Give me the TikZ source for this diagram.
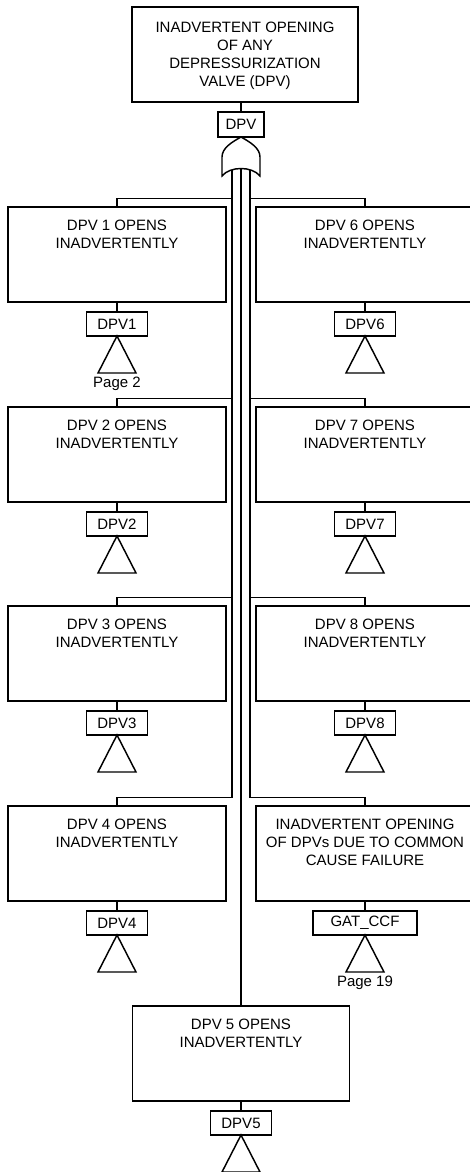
\documentclass[tikz,border=0pt]{standalone}
\usepackage{fontspec}
\setmainfont{Liberation Sans}
\usetikzlibrary{positioning}
\tikzset{
  evbox/.style={draw,line width=1.1pt,minimum width=163.5pt,minimum height=71.25pt,anchor=north,inner sep=0pt,outer sep=0pt},
  evtext/.style={align=center,inner sep=0pt,outer sep=0pt,font=\fontsize{11.25}{13.6}\selectfont},
  tagbox/.style={draw,line width=1.1pt,minimum width=45.75pt,minimum height=18pt,inner sep=0pt,outer sep=0pt,font=\fontsize{11.25}{13.5}\selectfont},
  pagelbl/.style={inner sep=0pt,outer sep=0pt,font=\fontsize{11.25}{13.5}\selectfont},
  link/.style={line width=1.1pt},
  xfer/.pic={\draw[line width=1.1pt,line join=miter] (0,0) -- (-19,37) -- (19,37) -- cycle;},
}
\begin{document}
\begin{tikzpicture}[x=0.75pt,y=-0.75pt]
\useasboundingbox[fill=white] (0,0) rectangle (470,1172);
% top event and OR gate
\node[evbox,minimum width=169.5pt] (topev) at (245,7) {};
\node[evtext,below=11pt of topev.north] (topevt) {INADVERTENT OPENING\\OF ANY\\DEPRESSURIZATION\\VALVE (DPV)};
\node[tagbox,minimum width=34.5pt,minimum height=18.75pt,anchor=north] (gDPV) at (241,112) {DPV};
\draw[link] (gDPV.north) -- (gDPV.north |- topev.south);
\draw[link] (222,176) -- (222,157) .. controls (222,148) and (232,142) .. (241,137)
  .. controls (250,142) and (260,148) .. (260,157) -- (260,176)
  .. controls (252,166) and (230,166) .. cycle;
\coordinate (orL) at (232,169.8);
\coordinate (orM) at (241,168.5);
\coordinate (orR) at (250,169.8);
% left column
\node[evbox] (L1) at (117,207) {};
\node[evtext,below=9.5pt of L1.north] (L1t) {DPV 1 OPENS\\INADVERTENTLY};
\node[tagbox,below=7.5pt of L1] (g1) {DPV1};
\node[evbox] (L2) at (117,407) {};
\node[evtext,below=9.5pt of L2.north] (L2t) {DPV 2 OPENS\\INADVERTENTLY};
\node[tagbox,below=7.5pt of L2] (g2) {DPV2};
\node[evbox] (L3) at (117,606) {};
\node[evtext,below=9.5pt of L3.north] (L3t) {DPV 3 OPENS\\INADVERTENTLY};
\node[tagbox,below=7.5pt of L3] (g3) {DPV3};
\node[evbox] (L4) at (117,806) {};
\node[evtext,below=9.5pt of L4.north] (L4t) {DPV 4 OPENS\\INADVERTENTLY};
\node[tagbox,below=7.5pt of L4] (g4) {DPV4};
% right column
\node[evbox] (R1) at (365,207) {};
\node[evtext,below=9.5pt of R1.north] (R1t) {DPV 6 OPENS\\INADVERTENTLY};
\node[tagbox,below=7.5pt of R1] (g6) {DPV6};
\node[evbox] (R2) at (365,407) {};
\node[evtext,below=9.5pt of R2.north] (R2t) {DPV 7 OPENS\\INADVERTENTLY};
\node[tagbox,below=7.5pt of R2] (g7) {DPV7};
\node[evbox] (R3) at (365,606) {};
\node[evtext,below=9.5pt of R3.north] (R3t) {DPV 8 OPENS\\INADVERTENTLY};
\node[tagbox,below=7.5pt of R3] (g8) {DPV8};
\node[evbox] (R4) at (365,806) {};
\node[evtext,below=9.5pt of R4.north] (R4t) {INADVERTENT OPENING\\OF DPVs DUE TO COMMON\\CAUSE FAILURE};
\node[tagbox,minimum width=78pt,below=7.5pt of R4] (gccf) {GAT\_CCF};
% bottom
\node[evbox,minimum width=162.75pt] (B5) at (241,1006) {};
\node[evtext,below=9.5pt of B5.north] (B5t) {DPV 5 OPENS\\INADVERTENTLY};
\node[tagbox,below=7.5pt of B5] (g5) {DPV5};
% transfers
\pic at (g1.south) {xfer};
\pic at (g2.south) {xfer};
\pic at (g3.south) {xfer};
\pic at (g4.south) {xfer};
\pic at (g6.south) {xfer};
\pic at (g7.south) {xfer};
\pic at (g8.south) {xfer};
\pic at (gccf.south) {xfer};
\pic at (g5.south) {xfer};
\node[pagelbl,below=31pt of g1] (p1) {Page 2};
\node[pagelbl,below=31pt of gccf] (p19) {Page 19};
% connectors
\foreach \b/\g in {L1/g1,L2/g2,L3/g3,L4/g4,R1/g6,R2/g7,R3/g8,R4/gccf,B5/g5}
  \draw[link] (\b.south) -- (\g.north);
\draw[link] (L1.north) -- ++(0,-8.5) -| (orL);
\draw[link] (L2.north) -- ++(0,-8.5) -| (orL);
\draw[link] (L3.north) -- ++(0,-8.5) -| (orL);
\draw[link] (L4.north) -- ++(0,-8.5) -| (orL);
\draw[link] (R1.north) -- ++(0,-8.5) -| (orR);
\draw[link] (R2.north) -- ++(0,-8.5) -| (orR);
\draw[link] (R3.north) -- ++(0,-8.5) -| (orR);
\draw[link] (R4.north) -- ++(0,-8.5) -| (orR);
\draw[link] (orM) -- (B5.north);
\end{tikzpicture}
\end{document}
